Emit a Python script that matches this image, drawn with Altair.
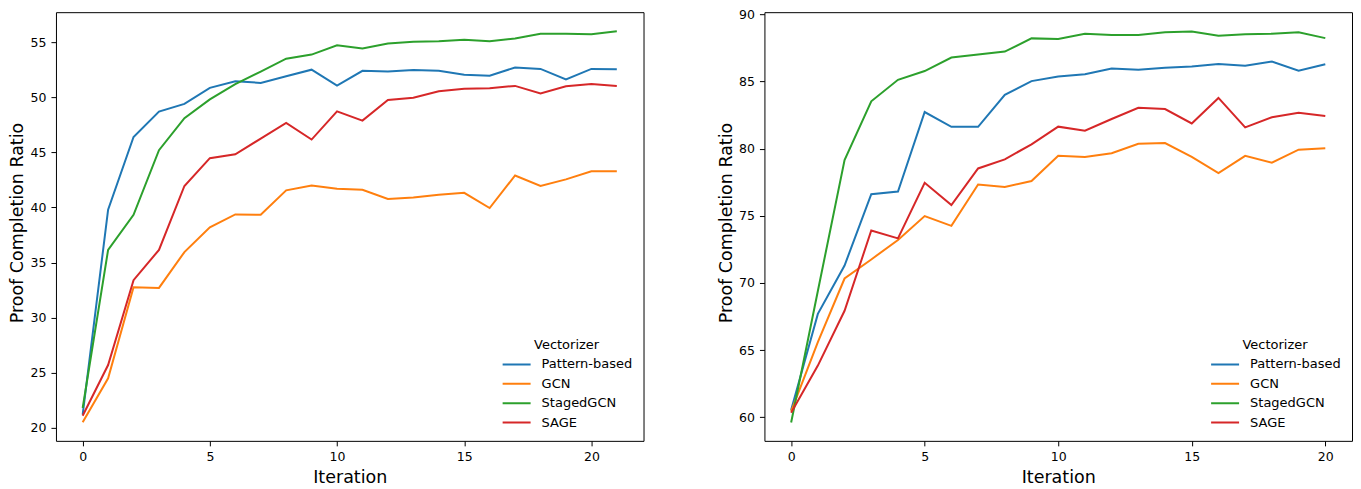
import altair as alt
import pandas as pd

series = ["Pattern-based", "GCN", "StagedGCN", "SAGE"]
colors = ["#1f77b4", "#ff7f0e", "#2ca02c", "#d62728"]

# Left panel (iterations 0..21)
left_iters = list(range(22))
left_pattern = [21.2, 39.8, 46.4, 48.7, 49.4, 50.85, 51.45, 51.3, 51.9, 52.5, 51.05,
                52.4, 52.33, 52.47, 52.4, 52.05, 51.95, 52.7, 52.57, 51.62, 52.57, 52.53]
left_gcn = [20.5, 24.5, 32.75, 32.7, 35.95, 38.2, 39.37, 39.33, 41.55, 42.0, 41.7,
            41.6, 40.77, 40.9, 41.15, 41.33, 39.95, 42.9, 41.95, 42.55, 43.28, 43.28]
left_staged = [21.8, 36.15, 39.33, 45.2, 48.1, 49.8, 51.2, 52.33, 53.5, 53.87, 54.72,
               54.42, 54.88, 55.03, 55.09, 55.22, 55.09, 55.33, 55.77, 55.77, 55.72, 55.98]
left_sage = [21.1, 25.7, 33.4, 36.15, 41.95, 44.47, 44.82, 46.25, 47.67, 46.16, 48.72,
             47.88, 49.75, 49.96, 50.55, 50.77, 50.82, 51.03, 50.34, 51.0, 51.2, 51.03]

# Right panel (iterations 0..20)
right_iters = list(range(21))
right_pattern = [60.55, 67.7, 71.3, 76.6, 76.8, 82.72, 81.62, 81.62, 84.0, 85.02, 85.36,
                 85.53, 85.96, 85.87, 86.01, 86.11, 86.3, 86.16, 86.47, 85.8, 86.28]
right_gcn = [60.45, 65.6, 70.33, 71.75, 73.2, 74.98, 74.25, 77.33, 77.15, 77.58, 79.47,
             79.38, 79.65, 80.36, 80.41, 79.38, 78.17, 79.46, 78.95, 79.92, 80.03]
right_staged = [59.62, 69.4, 79.15, 83.52, 85.12, 85.77, 86.77, 87.0, 87.22, 88.2, 88.15,
                88.55, 88.46, 88.46, 88.66, 88.71, 88.4, 88.5, 88.55, 88.65, 88.22]
right_sage = [60.35, 63.85, 67.93, 73.9, 73.32, 77.45, 75.8, 78.52, 79.2, 80.32, 81.63,
              81.33, 82.2, 83.04, 82.94, 81.87, 83.77, 81.58, 82.33, 82.67, 82.43]

left_x_ticks = [0, 5, 10, 15, 20]
left_y_ticks = [20, 25, 30, 35, 40, 45, 50, 55]
right_x_ticks = [0, 5, 10, 15, 20]
right_y_ticks = [60, 65, 70, 75, 80, 85, 90]


def frame(iters, values_by_series):
    rows = []
    for name, vals in zip(series, values_by_series):
        for i, v in zip(iters, vals):
            rows.append({"Iteration": i, "Ratio": v, "Vectorizer": name})
    return pd.DataFrame(rows)


df_left = frame(left_iters, [left_pattern, left_gcn, left_staged, left_sage])
df_right = frame(right_iters, [right_pattern, right_gcn, right_staged, right_sage])

W = 588
H = 429
PLOT_TOP = 440 - H
FONT = "DejaVu Sans"


def panel(df, xdom, ydom, xticks, yticks):
    return alt.Chart(df).mark_line(strokeWidth=2).encode(
        x=alt.X("Iteration:Q",
                scale=alt.Scale(domain=xdom, nice=False, zero=False),
                axis=alt.Axis(values=xticks, title="Iteration", titleY=42,
                              titleBaseline="alphabetic", labelPadding=5)),
        y=alt.Y("Ratio:Q",
                scale=alt.Scale(domain=ydom, nice=False, zero=False),
                axis=alt.Axis(values=yticks, title="Proof Completion Ratio",
                              titleX=-33, titleY=221.5 - PLOT_TOP, titleAngle=270,
                              titleAlign="center", titleBaseline="alphabetic",
                              labelPadding=5)),
        color=alt.Color("Vectorizer:N",
                        scale=alt.Scale(domain=series, range=colors),
                        legend=alt.Legend(orient="none", legendX=446,
                                          legendY=338 - PLOT_TOP,
                                          title="Vectorizer", titleAnchor="middle",
                                          titleAlign="center",
                                          titleFontWeight="normal", titleFontSize=13,
                                          titleFont=FONT, titleColor="black",
                                          titlePadding=6,
                                          labelFont=FONT, labelFontSize=13,
                                          labelColor="black", labelOffset=10,
                                          symbolType="stroke", symbolSize=784,
                                          symbolStrokeWidth=2, clipHeight=13,
                                          rowPadding=5.4)),
        order=alt.Order("Iteration:Q"),
    ).properties(width=W, height=H)


left = panel(df_left, [-1.05, 22.05], [18.82, 57.72], left_x_ticks, left_y_ticks)
right = panel(df_right, [-1.0, 21.0], [58.25, 90.15], right_x_ticks, right_y_ticks)

chart = alt.hconcat(left, right, spacing=72).resolve_scale(
    color="independent"
).resolve_legend(color="independent").properties(
    padding={"left": 0, "top": -1, "right": 0, "bottom": 0}
).configure_view(
    stroke="black", strokeWidth=1
).configure_axis(
    domain=False, grid=False,
    labelFont=FONT, labelFontSize=12.5, labelColor="black",
    titleFont=FONT, titleFontSize=17.5, titleFontWeight="normal", titleColor="black",
    tickColor="black", tickSize=5, tickWidth=1,
)

chart.save("out.html", embed_options={"renderer": "svg", "actions": False})
